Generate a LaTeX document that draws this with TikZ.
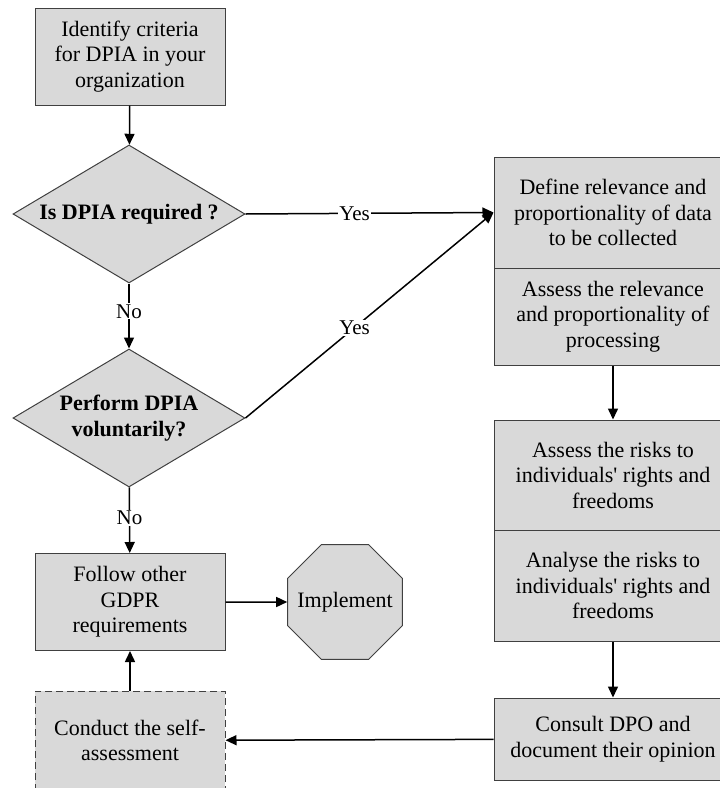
\documentclass[tikz,border=0pt]{standalone}
\usepackage{fontspec}
\setmainfont{Liberation Serif}
\usetikzlibrary{shapes.geometric, arrows.meta, positioning}
\definecolor{boxgray}{RGB}{217, 217, 217}
\definecolor{edgegray}{RGB}{64, 64, 64}

\begin{document}
\begin{tikzpicture}[x=1pt, y=-1pt,
  box/.style={draw=edgegray, fill=boxgray, line width=1pt,
              minimum width=190pt, minimum height=97pt, align=center,
              font=\fontsize{22}{25.5}\selectfont, inner sep=2pt},
  rbox/.style={box, minimum width=238pt},
  decide/.style={diamond, draw=edgegray, fill=boxgray, line width=1pt,
                 minimum width=232pt, minimum height=138pt, aspect=1.68,
                 inner sep=0pt, align=center,
                 font=\fontsize{22}{26}\selectfont\bfseries},
  stopbox/.style={regular polygon, regular polygon sides=8, draw=edgegray,
                  fill=boxgray, line width=1pt, minimum size=124pt,
                  inner sep=0pt, font=\fontsize{22}{25.5}\selectfont},
  arr/.style={-{Triangle[length=11pt, width=10pt]}, line width=1.5pt},
  lbl/.style={fill=white, inner sep=1pt, font=\fontsize{21}{25}\selectfont}
]
  \useasboundingbox (0,0) rectangle (720,788);

  % left column
  \node[box] (ident) at (130, 56.5) {Identify criteria\\for DPIA in your\\organization};
  \node[decide] (req) at (129, 214) {Is DPIA required ?};
  \node[decide] (vol) at (129, 418) {Perform DPIA\\voluntarily?};
  \node[box] (follow) at (130, 602) {Follow other\\GDPR\\requirements};
  \node[box, dash pattern=on 7pt off 4pt, minimum height=99pt] (self) at (130, 740.5)
    {Conduct the self-\\assessment};
  \node[stopbox] (impl) at (345, 602) {\makebox[0pt]{Implement}};

  % right column
  \node[rbox, minimum height=111pt] (define) at (613, 212.5)
    {Define relevance and\\proportionality of data\\to be collected};
  \node[rbox, minimum height=97pt] (relev) at (613, 316.5)
    {Assess the relevance\\and proportionality of\\processing};
  \node[rbox, minimum height=110pt] (assess) at (613, 475)
    {Assess the risks to\\individuals\textquotesingle{} rights and\\freedoms};
  \node[rbox, minimum height=111pt] (analyse) at (613, 585.5)
    {Analyse the risks to\\individuals\textquotesingle{} rights and\\freedoms};
  \node[rbox, minimum height=82pt] (dpo) at (613, 739)
    {Consult DPO and\\document their opinion};

  \draw[arr] (ident) -- (req);
  \draw[arr] (req) -- node[lbl, pos=0.43] {No} (vol);
  \draw[arr] (vol) -- node[lbl, pos=0.47] {No} (follow);
  \draw[arr] (req.east) -- node[lbl, pos=0.44] {Yes} (define.west);
  \draw[arr] (vol.east) -- node[lbl, pos=0.44] {Yes} (define.west);
  \draw[arr] (follow) -- (impl);
  \draw[arr] (relev) -- (assess);
  \draw[arr] (analyse) -- (dpo);
  \draw[arr] (dpo) -- (self);
  \draw[arr] (self) -- (follow);
\end{tikzpicture}
\end{document}
